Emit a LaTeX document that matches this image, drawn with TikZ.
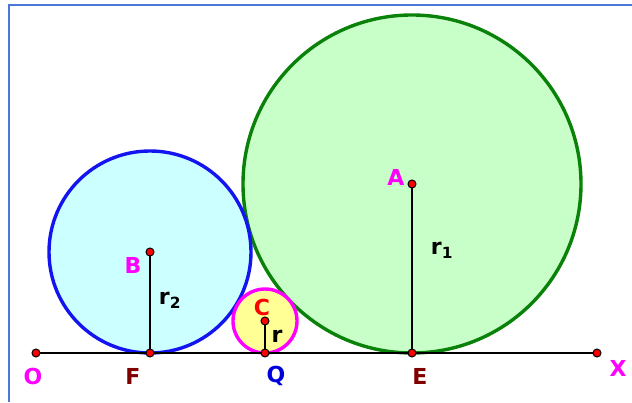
\documentclass[tikz,border=0pt]{standalone}
\usepackage{fontspec}
\setmainfont{DejaVu Sans}
\usepackage{tikz}
\usetikzlibrary{positioning, calc}
\definecolor{cFrame}{RGB}{74,122,216}
\definecolor{cGreenLine}{RGB}{10,130,10}
\definecolor{cGreenFill}{RGB}{200,255,200}
\definecolor{cBlueLine}{RGB}{20,20,240}
\definecolor{cBlueFill}{RGB}{204,255,255}
\definecolor{cPink}{RGB}{255,0,255}
\definecolor{cYellowFill}{RGB}{255,255,150}
\definecolor{cDarkRed}{RGB}{128,0,0}
\definecolor{cQBlue}{RGB}{0,0,220}
\tikzset{
	pt/.style    ={circle, draw=black, fill=red, line width=1pt, minimum size=8pt, inner sep=0pt},
	lbl/.style   ={font=\fontsize{22}{22}\selectfont\bfseries, inner sep=0pt},
	radius/.style={line width=2pt, black},
	base/.style  ={line width=2pt, black},
	frame/.style ={line width=2pt, cFrame},
	% circle styles
	bigc/.style  ={line width=3.4pt, draw=cGreenLine, fill=cGreenFill},
	midc/.style  ={line width=3.4pt, draw=cBlueLine, fill=cBlueFill},
	smallc/.style={line width=3.4pt, draw=cPink, fill=cYellowFill},
}
\begin{document}
\begin{tikzpicture}[x=1pt, y=1pt]
	\useasboundingbox (0,0) rectangle (632,402);
	\draw[frame] (9,0) -- (9,397) -- (632,397);
	% centres
	\coordinate (cA) at (412,218);
	\coordinate (cB) at (150,150);
	\coordinate (cC) at (265,81);
	\draw[bigc] (cA) circle (169);
	\draw[midc] (cB) circle (101);
	\draw[smallc] (cC) circle (32);
	% base line points
	\coordinate (O) at (36,49);
	\coordinate (X) at (597,49);
	\coordinate (F) at (150,49);
	\coordinate (Q) at (265,49);
	\coordinate (E) at (412,49);
	\draw[base] (O) -- (X);
	\draw[radius] (cA) -- (E);
	\draw[radius] (cB) -- (F);
	\draw[radius] (cC) -- (Q);
	\foreach \p in {O,X,F,Q,E,cA,cB,cC}
		\node[pt] (dot\p) at (\p) {};
	% labels
	\node[lbl, text=cPink] (labA) at (396,225) {A};
	\node[lbl, text=cPink] (labB) at (133,137) {B};
	\node[lbl, text=red] (labC) at (262,95) {C};
	\node[lbl] (labr) at (277,66) {r};
	\node[lbl] (labr1) at (442,152) {r\textsubscript{1}};
	\node[lbl] (labr2) at (170,102) {r\textsubscript{2}};
	\node[lbl, text=cPink] (labO) at (33,26) {O};
	\node[lbl, text=cDarkRed] (labF) at (133,26) {F};
	\node[lbl, text=cQBlue] (labQ) at (276,26) {Q};
	\node[lbl, text=cDarkRed] (labE) at (420,26) {E};
	\node[lbl, text=cPink] (labX) at (618,34) {X};
\end{tikzpicture}
\end{document}
